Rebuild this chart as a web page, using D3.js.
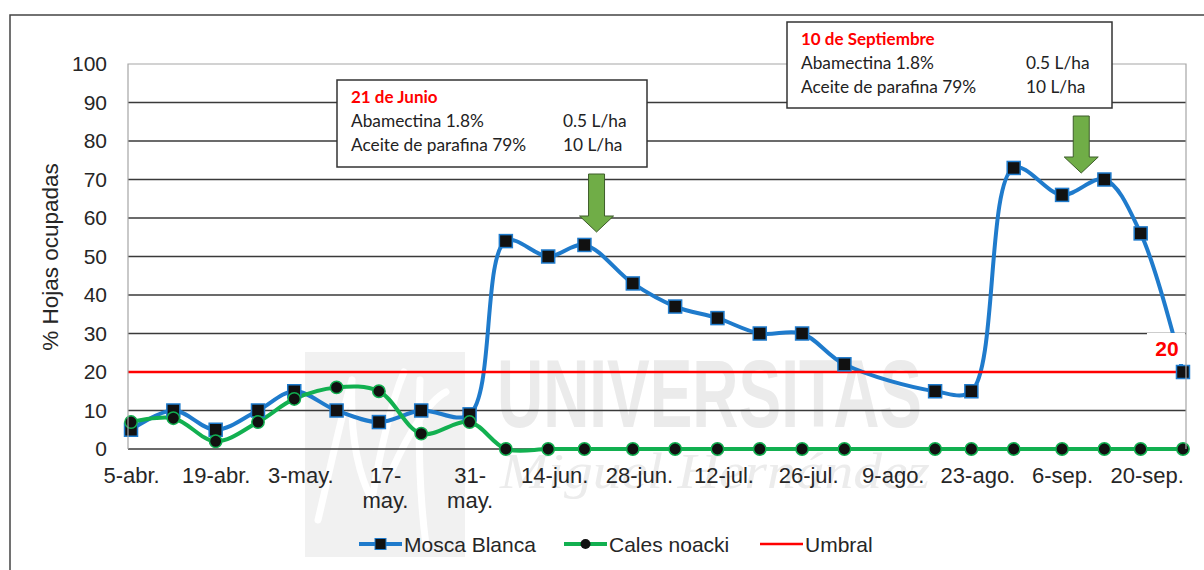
<!DOCTYPE html>
<html>
<head>
<meta charset="utf-8">
<script src="https://cdn.jsdelivr.net/npm/d3@7"></script>
<style>
  html, body { margin: 0; padding: 0; background: #fff; }
  svg { display: block; }
</style>
</head>
<body>
<script>
// datos de muestreo (fechas de conteo)
const fechas = ["2015-04-05","2015-04-12","2015-04-19","2015-04-26","2015-05-02","2015-05-09",
  "2015-05-16","2015-05-23","2015-05-31","2015-06-06","2015-06-13","2015-06-19","2015-06-27",
  "2015-07-04","2015-07-11","2015-07-18","2015-07-25","2015-08-01","2015-08-16","2015-08-22",
  "2015-08-29","2015-09-06","2015-09-13","2015-09-19","2015-09-26"];
const moscaBlanca = [5,10,5,10,15,10,7,10,9,54,50,53,43,37,34,30,30,22,15,15,73,66,70,56,20];
const calesNoacki = [7,8,2,7,13,16,15,4,7,0,0,0,0,0,0,0,0,0,0,0,0,0,0,0,0];
const umbral = 20;

const yTicks = [0,10,20,30,40,50,60,70,80,90,100];
const xTickFechas = ["2015-04-05","2015-04-19","2015-05-03","2015-05-17","2015-05-31","2015-06-14",
  "2015-06-28","2015-07-12","2015-07-26","2015-08-09","2015-08-23","2015-09-06","2015-09-20"];
const xTickLabels = ["5-abr.","19-abr.","3-may.","17-\nmay.","31-\nmay.","14-jun.","28-jun.",
  "12-jul.","26-jul.","9-ago.","23-ago.","6-sep.","20-sep."];

const aplicaciones = [
  { fecha: "2015-06-21", titulo: "21 de Junio" },
  { fecha: "2015-09-10", titulo: "10 de Septiembre" }
];
const productos = [["Abamectina 1.8%", "0.5 L/ha"], ["Aceite de parafina 79%", "10 L/ha"]];

const W = 1204, H = 570;
const plot = { left: 128, right: 1186, top: 64, bottom: 449 };
const parse = d3.timeParse("%Y-%m-%d");
const font = "'Liberation Sans', Arial, sans-serif";
const blue = "#1f7bcc", green = "#12b050", red = "#ff0000", grid = "#3a3a3a", border = "#a6a6a6";

const svg = d3.select("body").append("svg").attr("width", W).attr("height", H);

const d0 = d3.timeHour.offset(parse(fechas[0]), -12);
const d1 = d3.timeHour.offset(parse(fechas[fechas.length - 1]), 12);
const x = d3.scaleTime().domain([d0, d1]).range([plot.left, plot.right]);
const y = d3.scaleLinear().domain([0, 100]).range([plot.bottom, plot.top]);

// marco exterior
svg.append("path").attr("d", `M10,${H} V15 H${W}`)
  .attr("fill", "none").attr("stroke", "#444").attr("stroke-width", 1.5);

// marca de agua
const wm = svg.append("g");
wm.append("rect").attr("x", 305).attr("y", 352).attr("width", 160).attr("height", 205).attr("fill", "#f1f1f1");
wm.append("path")
  .attr("d", "M318,520 C330,470 340,420 352,380 M352,380 C350,430 356,470 372,500 C380,450 392,400 404,372 M392,470 C410,430 430,400 446,392 M420,380 C418,440 420,500 426,545")
  .attr("fill", "none").attr("stroke", "#fff").attr("stroke-width", 7).attr("stroke-linecap", "round");
wm.append("text").attr("x", 497).attr("y", 427).text("UNIVERSITAS")
  .attr("font-family", font).attr("font-weight", "bold").attr("font-size", 97)
  .attr("textLength", 425).attr("lengthAdjust", "spacingAndGlyphs").attr("fill", "#ebebeb");
wm.append("text").attr("x", 500).attr("y", 488).text("Miguel Hernández")
  .attr("font-family", "'Liberation Serif', serif").attr("font-style", "italic").attr("font-size", 50)
  .attr("textLength", 430).attr("lengthAdjust", "spacingAndGlyphs").attr("fill", "#ececec");

// rejilla
svg.append("g").selectAll("line").data(yTicks.filter(d => d < 100)).join("line")
  .attr("x1", plot.left).attr("x2", plot.right)
  .attr("y1", d => y(d)).attr("y2", d => y(d))
  .attr("stroke", grid).attr("stroke-width", 1.4);

// ejes
const yAxis = svg.append("g").attr("transform", `translate(${plot.left},0)`)
  .call(d3.axisLeft(y).tickValues(yTicks).tickSize(0).tickPadding(21));
yAxis.select(".domain").remove();
yAxis.selectAll("text").attr("font-family", font).attr("font-size", 21).attr("fill", "#262626");

const xAxis = svg.append("g").attr("transform", `translate(0,${plot.bottom})`)
  .call(d3.axisBottom(x).tickValues(xTickFechas.map(parse)).tickSize(0).tickFormat(""));
xAxis.select(".domain").remove();
xAxis.selectAll(".tick").each(function (d, i) {
  const lines = xTickLabels[i].split("\n");
  const t = d3.select(this).append("text").attr("fill", "#262626")
    .attr("font-family", font).attr("font-size", 22).attr("text-anchor", "middle");
  lines.forEach((l, k) => t.append("tspan").attr("x", 0).attr("y", 34 + k * 25).text(l));
});

svg.append("text").attr("transform", `translate(58,257) rotate(-90)`)
  .attr("text-anchor", "middle").attr("font-family", font).attr("font-size", 22.5)
  .attr("fill", "#262626").text("% Hojas ocupadas");

// series
const fechasD = fechas.map(parse);
const line = d3.line().x(d => x(d[0])).y(d => y(d[1])).curve(d3.curveCatmullRom.alpha(0.5));
const serieMB = fechasD.map((f, i) => [f, moscaBlanca[i]]);
const serieCN = fechasD.map((f, i) => [f, calesNoacki[i]]);

svg.append("path").datum(serieMB).attr("d", line)
  .attr("fill", "none").attr("stroke", blue).attr("stroke-width", 4).attr("stroke-linejoin", "round");
svg.append("path").datum(serieCN).attr("d", line)
  .attr("fill", "none").attr("stroke", green).attr("stroke-width", 4).attr("stroke-linejoin", "round");
svg.append("line").attr("x1", plot.left).attr("x2", plot.right)
  .attr("y1", y(umbral)).attr("y2", y(umbral)).attr("stroke", red).attr("stroke-width", 2.5);

svg.append("g").selectAll("rect").data(serieMB).join("rect")
  .attr("x", d => x(d[0]) - 6.5).attr("y", d => y(d[1]) - 6.5)
  .attr("width", 13).attr("height", 13)
  .attr("fill", "#111").attr("stroke", blue).attr("stroke-width", 1.5);
svg.append("g").selectAll("circle").data(serieCN).join("circle")
  .attr("cx", d => x(d[0])).attr("cy", d => y(d[1])).attr("r", 6.2)
  .attr("fill", "#111").attr("stroke", green).attr("stroke-width", 1.5);

// etiqueta del último valor
const ult = serieMB[serieMB.length - 1];
const lx = x(ult[0]), ly = y(ult[1]);
svg.append("rect").attr("x", lx - 36).attr("y", ly - 39).attr("width", 38).attr("height", 31).attr("fill", "#fff");
svg.append("text").attr("x", lx - 16).attr("y", ly - 16).attr("text-anchor", "middle")
  .attr("font-family", font).attr("font-weight", "bold").attr("font-size", 21)
  .attr("fill", red).text(ult[1]);

// borde del área de trazado
svg.append("path")
  .attr("d", `M${plot.left},${plot.bottom} V${plot.top} H${plot.right} V${plot.bottom}`)
  .attr("fill", "none").attr("stroke", border).attr("stroke-width", 1.2);

// cuadros de aplicación
const cajas = [
  { x: 337, y: 80, w: 310, h: 87, col2: 226, flecha: { top: 174, tip: 232, dx: 0 } },
  { x: 787, y: 22, w: 325, h: 86, col2: 239, flecha: { top: 116, tip: 173, dx: -5 } }
];
const cfont = "Lato, 'Open Sans', sans-serif";
aplicaciones.forEach((a, i) => {
  const c = cajas[i];
  const g = svg.append("g").attr("transform", `translate(${c.x},${c.y})`);
  g.append("rect").attr("width", c.w).attr("height", c.h)
    .attr("fill", "#fff").attr("stroke", "#333").attr("stroke-width", 1.5);
  g.append("text").attr("x", 14).attr("y", 23).attr("fill", red)
    .attr("font-family", cfont).attr("font-weight", "bold").attr("font-size", 17).text(a.titulo);
  productos.forEach((p, k) => {
    g.append("text").attr("x", 14).attr("y", 47 + k * 24).attr("fill", "#222")
      .attr("font-family", cfont).attr("font-size", 17.3).text(p[0]);
    g.append("text").attr("x", c.col2).attr("y", 47 + k * 24).attr("fill", "#222")
      .attr("font-family", cfont).attr("font-size", 17.3).text(p[1]);
  });
  // flecha
  const f = c.flecha, ax = x(parse(a.fecha)) + f.dx, hs = f.tip - 16;
  svg.append("path")
    .attr("d", `M${ax - 8},${f.top} H${ax + 8} V${hs} H${ax + 17} L${ax},${f.tip} L${ax - 17},${hs} H${ax - 8} Z`)
    .attr("fill", "#70ad47").attr("stroke", "#3d5c2a").attr("stroke-width", 1);
});

// leyenda
const leyenda = [
  { nombre: "Mosca Blanca", color: blue, marca: "rect", x: 359 },
  { nombre: "Cales noacki", color: green, marca: "circle", x: 564 },
  { nombre: "Umbral", color: red, marca: null, x: 760 }
];
const ly0 = 544;
leyenda.forEach(l => {
  const g = svg.append("g").attr("transform", `translate(${l.x},${ly0})`);
  g.append("line").attr("x1", 0).attr("x2", 43).attr("stroke", l.color)
    .attr("stroke-width", l.marca ? 4 : 2.5);
  if (l.marca === "rect") g.append("rect").attr("x", 16).attr("y", -5.5).attr("width", 11).attr("height", 11)
    .attr("fill", "#111").attr("stroke", blue).attr("stroke-width", 1);
  if (l.marca === "circle") g.append("circle").attr("cx", 21.5).attr("r", 5).attr("fill", "#111");
  g.append("text").attr("x", 45).attr("y", 8).attr("font-family", font).attr("font-size", 21)
    .attr("fill", "#262626").text(l.nombre);
});
</script>
</body>
</html>
